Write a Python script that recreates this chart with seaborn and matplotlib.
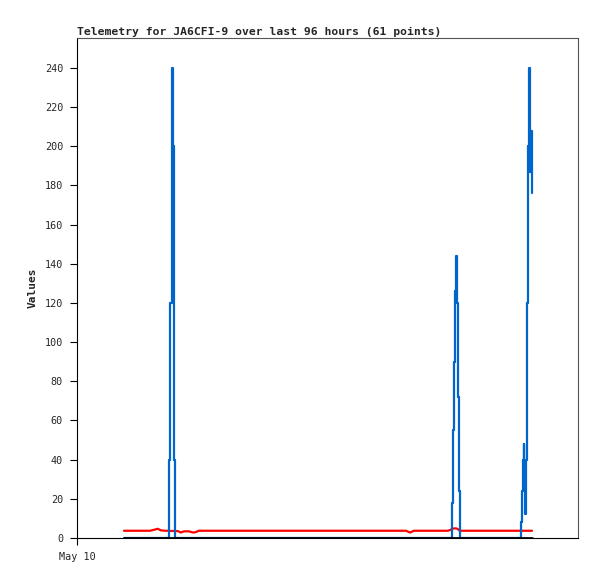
import matplotlib
matplotlib.use("Agg")
import matplotlib.pyplot as plt
import seaborn as sns
import pandas as pd

# hours since May 10 00:00
hours = [
    11.06, 14.82, 17.18, 18.12, 18.99, 19.76, 20.71, 21.46, 21.69, 21.98,
    22.26, 22.42, 22.59, 22.73, 22.89, 23.11, 23.76, 24.40, 25.18, 26.35,
    27.29, 27.76, 28.71, 45.41, 54.82, 64.24, 73.65, 77.41, 78.35, 79.29,
    83.06, 87.29, 88.05, 88.28, 88.52, 88.75, 88.99, 89.15, 89.39, 89.62,
    89.86, 90.10, 92.47, 97.18, 101.88, 104.28, 104.52, 104.75, 104.99, 105.15,
    105.29, 105.44, 105.60, 105.88, 106.16, 106.35, 106.49, 106.64, 106.80, 106.94,
    107.06,
]
blue_vals = [
    0, 0, 0, 0, 0, 0, 0, 0, 40, 120,
    200, 240, 200, 120, 40, 0, 0, 0, 0, 0,
    0, 0, 0, 0, 0, 0, 0, 0, 0, 0,
    0, 0, 0, 18, 55, 90, 126, 144, 120, 72,
    24, 0, 0, 0, 0, 0, 8, 24, 40, 48,
    40, 12, 40, 120, 200, 240, 230, 187, 208, 187,
    176,
]
red_vals = [
    3.7, 3.7, 3.7, 4.2, 4.7, 3.9, 3.7, 3.7, 3.6, 3.6,
    3.6, 3.6, 3.6, 3.6, 3.6, 3.6, 3.5, 2.8, 3.4, 3.4,
    2.8, 2.9, 3.7, 3.7, 3.7, 3.7, 3.7, 3.7, 2.8, 3.7,
    3.7, 3.7, 4.3, 4.7, 4.8, 4.9, 4.9, 4.9, 4.8, 4.5,
    4.0, 3.7, 3.7, 3.7, 3.7, 3.7, 3.7, 3.7, 3.7, 3.7,
    3.7, 3.7, 3.7, 3.7, 3.7, 3.7, 3.7, 3.7, 3.7, 3.7,
    3.7,
]
zero_vals = [0] * len(hours)

y_ticks = list(range(0, 241, 20))
x_tick_labels = ["May 10"]

df = pd.DataFrame({"hours": hours, "blue": blue_vals, "red": red_vals, "zero": zero_vals})

sns.set_style("white")
plt.rcParams["font.family"] = ["DejaVu Sans Mono"]

fig = plt.figure(figsize=(5.97, 5.79), dpi=100)
ax = fig.add_axes([77 / 597, 41 / 579, 501 / 597, 500 / 579])

sns.lineplot(data=df, x="hours", y="red", color="#ff0000", linewidth=1.6, ax=ax)
sns.lineplot(data=df, x="hours", y="blue", color="#0066cc", linewidth=1.6,
             drawstyle="steps-post", ax=ax)
sns.lineplot(data=df, x="hours", y="zero", color="#000000", linewidth=2.0, ax=ax)

ax.set_xlim(0, 117.88)
ax.set_ylim(0, 255.3)
ax.set_yticks(y_ticks)
ax.set_yticklabels([str(v) for v in y_ticks], fontsize=7.3)
ax.set_xticks([0])
ax.set_xticklabels(x_tick_labels, fontsize=7.3)
ax.tick_params(axis="both", direction="out", length=5, width=0.8, color="black",
               left=True, bottom=True, pad=5)

for side in ["left", "bottom"]:
    ax.spines[side].set_color("black")
    ax.spines[side].set_linewidth(0.8)
for side in ["top", "right"]:
    ax.spines[side].set_color("#555555")
    ax.spines[side].set_linewidth(0.8)

ax.set_xlabel("")
ax.set_ylabel("Values", fontsize=8, fontweight="bold", labelpad=5)
ax.set_title("Telemetry for JA6CFI-9 over last 96 hours (61 points)",
             loc="left", fontsize=8.2, fontweight="bold", pad=2)

fig.savefig("out.png", dpi=100)
plt.close(fig)
